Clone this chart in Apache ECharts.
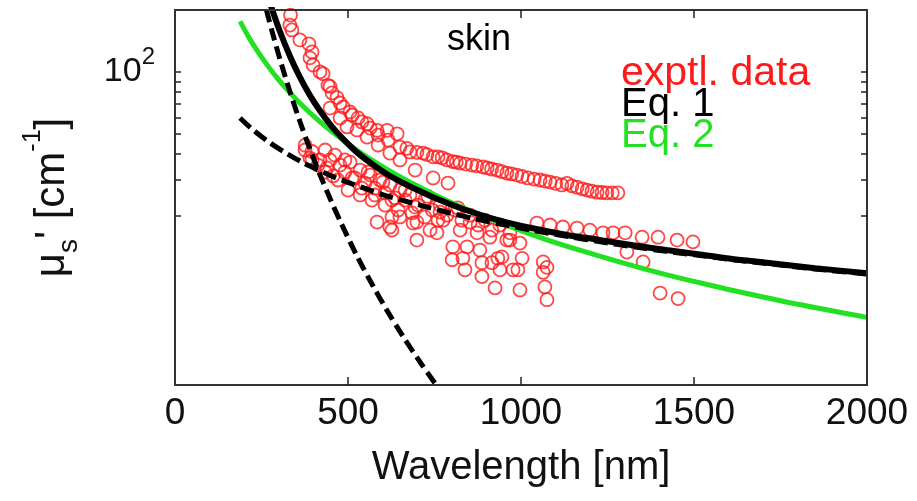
<!DOCTYPE html>
<html><head><meta charset="utf-8">
<script src="https://cdn.jsdelivr.net/npm/echarts@6/dist/echarts.min.js"></script>
<style>html,body{margin:0;padding:0;background:#fff}#c{width:917px;height:501px}</style>
</head><body><div id="c"></div>
<script>
const xInnerTicks = [500, 1000, 1500];
const yMinorTicks = [20, 30, 40, 50, 60, 70, 80, 90, 100];
const yLabelTicks = [100];

const exptBandUpper = [[334,189],[332,169],[338,160],[361,143],[387,137],[396,125],[390,117],[399,108],[419,100],[428,98],[442,86],[448,85],[454,79],[468,75],[477,70.6],[486,67.5],[506,63.8],[512,61.7],[529,59.7],[540,57.1],[555,56],[564,53.3],[584,52],[587,49.3],[613,52],[616,46.6],[642,50],[650,43.1],[670,42.5],[679,40.8],[699,40.6],[717,40.3],[728,39.6],[746,38.6],[760,38.6],[772,38.2],[786,37.3],[803,36.6],[813,36.4],[824,36.0],[840,35.6],[858,35.2],[872,34.9],[890,34.5],[902,34.1],[915,33.7],[931,33.3],[945,32.7],[959,32.2],[973,31.9],[988,31.5],[1003,31.0],[1020,30.5],[1038,30.1],[1055,29.8],[1070,29.4],[1084,29.1],[1100,28.7],[1118,28.2],[1133,28.7],[1147,27.9],[1162,27.5],[1177,27.0],[1191,26.6],[1205,26.3],[1220,26.0],[1234,25.9],[1248,25.8],[1264,25.8],[1280,25.8]];
const exptBandLower = [[448,66.7],[477,59.7],[497,54],[526,52.2],[555,48.2],[587,44.1],[621,40.3],[650,37.3],[694,33.3],[746,30.5],[789,28.8]];
const exptCluster = [[376,41.7],[376,44],[390,38.1],[396,37.3],[396,41],[413,35.2],[419,37.3],[434,41.7],[434,32.6],[439,34.1],[448,37.3],[457,31.2],[462,39.4],[471,29.8],[477,35.2],[491,32.6],[491,37.3],[500,26.6],[506,36.4],[512,30.5],[520,30.5],[535,33.3],[535,25.2],[540,27.2],[549,28.8],[558,32.6],[564,31.5],[569,23.8],[578,27.2],[578,25.2],[592,29.8],[601,29.1],[607,25.8],[607,22.5],[621,28.2],[627,23.8],[636,24.4],[645,21.3],[650,26.6],[665,23.8],[665,26.6],[679,25.2],[685,20.6],[694,22.0],[702,22.5],[722,23.8],[722,19.7],[731,24.8],[743,21.3],[760,19.0],[766,22.5],[766,20.8],[786,20.1],[809,21.3],[818,21.8],[824,17.0],[829,19.0],[853,20.1],[853,18.6],[873,16.5],[876,18.0],[896,19.0],[910,15.7],[916,17.0],[939,18.0],[959,15.2],[968,16.5],[1046,18.4],[1084,18.0],[1121,17.6],[1162,17.4],[1199,17.0],[1237,16.5],[1266,16.5],[1301,16.5],[1350,15.7],[1396,15.7],[1451,15.2],[1497,14.9]];
const exptScatter = [[584,18.6],[621,17.6],[627,19.7],[627,17.0],[650,19.7],[688,18.4],[699,18.6],[699,15.2],[737,17.0],[757,16.5],[775,19.0],[801,12.2],[803,14.1],[832,12.4],[838,10.9],[844,14.1],[881,13.6],[887,11.8],[887,10.1],[916,11.8],[925,8.9],[933,12.4],[939,10.9],[945,12.6],[968,15.2],[977,10.9],[991,10.9],[997,14.7],[997,8.7],[1003,12.4],[1064,11.9],[1064,10.6],[1069,9.0],[1075,11.2],[1075,7.8],[1306,13.3],[1353,11.9],[1402,8.4],[1454,7.9]];

const eq1Curve = [[272,224],[280,203],[303,157.7],[332,119.5],[361,94.3],[390,76.9],[420,64.3],[450,55.1],[480,48.3],[526,40.6],[570,35.6],[613,31.8],[660,28.8],[710,26.2],[760,24.0],[830,21.6],[939,18.9],[1030,17.4],[1133,16.1],[1230,15.2],[1324,14.35],[1420,13.6],[1517,12.95],[1611,12.3],[1711,11.8],[1850,11.1],[2000,10.5]];
const eq2Curve = [[188,176],[212,148.7],[237,127.2],[265,108.8],[295,93.6],[330,80.0],[370,68.1],[412,58.6],[457,50.7],[526,41.6],[590,35.4],[659,30.3],[730,26.3],[800,23.1],[900,19.6],[1017,16.5],[1120,14.4],[1228,12.7],[1325,11.4],[1422,10.3],[1520,9.4],[1613,8.65],[1800,7.41],[2000,6.4]];
const rayleighCurve = [[264,200.8],[280,158.6],[303,115.7],[332,80.3],[361,57.4],[390,42.1],[420,31.3],[450,23.8],[480,18.4],[526,12.7],[570,9.24],[613,6.9],[660,5.14],[710,3.84],[760,2.92]];
const mieCurve = [[188,59.7],[225,52.3],[275,45.1],[324,40.0],[370,36.2],[415,33.3],[462,30.7],[510,28.6],[555,26.9],[600,25.3],[650,23.9],[720,22.2],[795,20.6],[865,19.3],[939,18.2],[1030,17.0],[1133,15.85],[1230,14.9],[1324,14.1],[1420,13.4],[1517,12.8],[1611,12.2],[1711,11.7],[1850,11.0],[2000,10.4]];

const X_MIN = 0, X_MAX = 2000, Y_MIN = 3, Y_MAX = 200;
const FONT = '"Liberation Sans", Arial, sans-serif';
const RED = '#ff1a1a', GREEN = '#22e022';
const chart = echarts.init(document.getElementById('c'), null, {renderer: 'canvas'});

const scatterStyle = {color: 'rgba(0,0,0,0)', borderColor: RED, borderWidth: 1.8};
function scat(data) {
  return {type: 'scatter', data, symbol: 'circle', symbolSize: 13, itemStyle: scatterStyle, z: 2, silent: true};
}
function curve(data, color, width, type, z) {
  return {type: 'line', data, smooth: 0.3, showSymbol: false, symbol: 'none', z,
    lineStyle: {color, width, type, cap: 'butt'}, silent: true};
}
const tickStyle = {color: '#222', width: 1.5};
const TICK_LEN = 8;
const axisLine = {show: true, onZero: false, lineStyle: {color: '#333', width: 2}};
const xCommon = {type: 'value', min: X_MIN, max: X_MAX, interval: 500, splitLine: {show: false}, axisLine, z: 10};
const yCommon = {type: 'log', logBase: 10, min: Y_MIN, max: Y_MAX, splitLine: {show: false}, axisLine, z: 10};

// x-axis inward ticks (bottom and top edges) placed through the axis scale
const xTickSeries = {
  type: 'custom', silent: true, clip: false, z: 11,
  data: xInnerTicks.map(v => [v]),
  renderItem: (params, api) => {
    const b = api.coord([api.value(0), Y_MIN]);
    const t = api.coord([api.value(0), Y_MAX]);
    const st = {stroke: tickStyle.color, lineWidth: tickStyle.width};
    return {type: 'group', children: [
      {type: 'line', shape: {x1: b[0], y1: b[1], x2: b[0], y2: b[1] - TICK_LEN}, style: st},
      {type: 'line', shape: {x1: t[0], y1: t[1], x2: t[0], y2: t[1] + TICK_LEN}, style: st}
    ]};
  }
};

chart.setOption({
  animation: false,
  backgroundColor: '#fff',
  grid: {left: 175, right: 50, top: 10, bottom: 116, containLabel: false, outerBoundsMode: 'none'},
  xAxis: [
    Object.assign({}, xCommon, {position: 'bottom',
      axisTick: {show: false},
      axisLabel: {fontSize: 37, fontFamily: FONT, color: '#111', margin: 10,
        showMinLabel: true, showMaxLabel: true, formatter: v => String(v)},
      name: 'Wavelength [nm]', nameLocation: 'middle', nameGap: 63, nameMoveOverlap: false,
      nameTextStyle: {fontSize: 40, fontFamily: FONT, color: '#111'}}),
    Object.assign({}, xCommon, {position: 'top',
      axisTick: {show: false},
      axisLabel: {show: false}})
  ],
  yAxis: [
    Object.assign({}, yCommon, {position: 'left',
      axisTick: {show: true, inside: true, length: 6, lineStyle: tickStyle, customValues: yMinorTicks},
      axisLabel: {show: true, margin: 20, customValues: yLabelTicks,
        formatter: () => '{b|10}{s|2}',
        rich: {b: {fontSize: 34, fontFamily: FONT, color: '#111', lineHeight: 54},
               s: {fontSize: 24, fontFamily: FONT, color: '#111', lineHeight: 24, verticalAlign: 'top'}}},
      name: '{a|μ}{sub|s}{a|\' [cm}{sup|-1}{a|]}', nameLocation: 'middle', nameRotate: 90, nameGap: 92, nameMoveOverlap: false,
      nameTextStyle: {rich: {
        a: {fontSize: 42, fontFamily: FONT, color: '#111', lineHeight: 62},
        sub: {fontSize: 28, fontFamily: FONT, color: '#111', lineHeight: 28, verticalAlign: 'bottom'},
        sup: {fontSize: 25, fontFamily: FONT, color: '#111', lineHeight: 25, verticalAlign: 'top'}}}}),
    Object.assign({}, yCommon, {position: 'right',
      axisTick: {show: true, inside: true, length: 6, lineStyle: tickStyle, customValues: yMinorTicks},
      axisLabel: {show: false}})
  ],
  series: [
    scat(exptBandUpper), scat(exptBandLower), scat(exptCluster), scat(exptScatter),
    curve(eq2Curve, GREEN, 5, 'solid', 3),
    curve(mieCurve, '#000', 5, [14, 6], 4),
    curve(rayleighCurve, '#000', 5, [13, 6], 4),
    curve(eq1Curve, '#000', 6, 'solid', 5),
    xTickSeries
  ],
  graphic: [
    {type: 'text', x: 447, y: 40, z: 10, style: {text: 'skin', font: '36px ' + FONT, fill: '#000', verticalAlign: 'middle'}},
    {type: 'text', x: 621, y: 74, z: 10, style: {text: 'exptl. data', font: '41px ' + FONT, fill: RED, verticalAlign: 'middle'}},
    {type: 'text', x: 621, y: 105, z: 10, style: {text: 'Eq. 1', font: '40px ' + FONT, fill: '#000', verticalAlign: 'middle'}},
    {type: 'text', x: 621, y: 136, z: 10, style: {text: 'Eq. 2', font: '40px ' + FONT, fill: GREEN, verticalAlign: 'middle'}}
  ]
});
</script></body></html>
